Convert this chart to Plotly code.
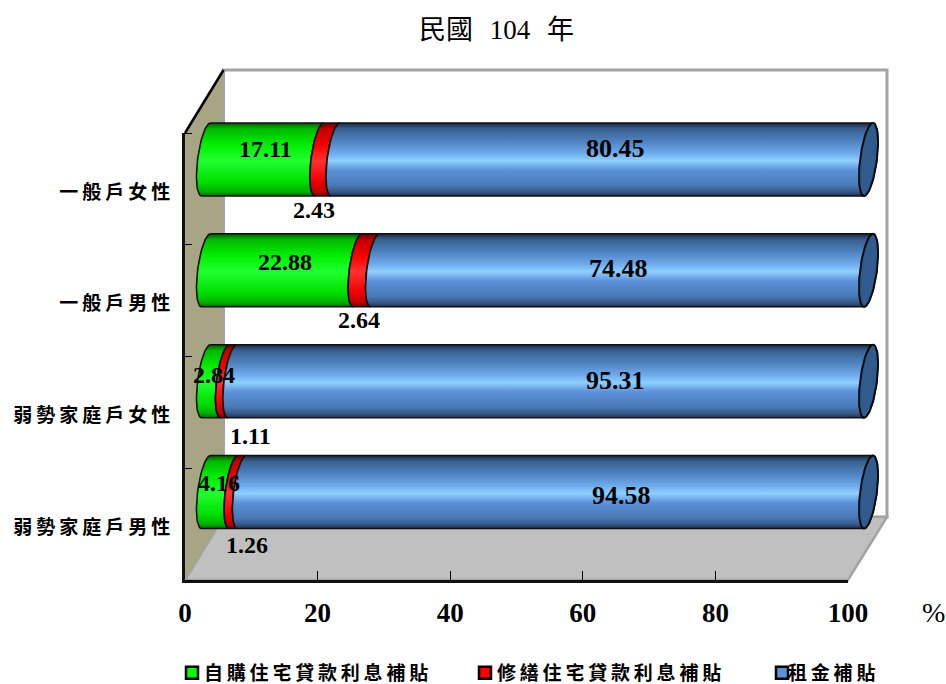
import math
import plotly.graph_objects as go

# ---- data -----------------------------------------------------------------
categories = ["一般戶女性", "一般戶男性", "弱勢家庭戶女性", "弱勢家庭戶男性"]
purchase_loan = [17.11, 22.88, 2.84, 4.16]
repair_loan = [2.43, 2.64, 1.11, 1.26]
rent_subsidy = [80.45, 74.48, 95.31, 94.58]
series_names = ["自購住宅貸款利息補貼", "修繕住宅貸款利息補貼", "租金補貼"]
x_ticks = [0, 20, 40, 60, 80, 100]
title_text = "民國 104 年"

# ---- layout constants (pixels of the 946x684 page) ------------------------
W, H = 946, 684
FRONT_L, FRONT_R, FRONT_T, FRONT_B = 185, 848, 133, 580
DEPTH_X, DEPTH_Y = 38.5, 63
BAR_L, BAR_R, BAR_T, BAR_B = 206, 868.5, 104, 547.5
BAR_H = 73
RX, SKEW = 8.4, 4.5
PAD = 20  # room either side of the bar axis so the rounded ends are not clipped

px = lambda v: v / W
py = lambda v: 1 - v / H

SERIF = "Liberation Serif, Noto Sans CJK TC"
CJK = "Noto Sans CJK TC"

fills = ["#00FF00", "#FF0000", "#5B93D9"]
grads = [
    [[0, "#006a00"], [.06, "#00b000"], [.2, "#00e000"], [.48, "#20ff30"], [.7, "#00f000"], [.92, "#00b800"], [1, "#005a00"]],
    [[0, "#700000"], [.06, "#c00000"], [.2, "#f00000"], [.48, "#ff3030"], [.7, "#f80000"], [.92, "#c00000"], [1, "#600000"]],
    [[0, "#1f3250"], [.06, "#365a8c"], [.15, "#4a7ab5"], [.35, "#5a90d8"], [.48, "#8ed0ff"], [.58, "#70aced"],
     [.75, "#4f82c0"], [.92, "#38608f"], [1, "#1a2a42"]],
]
label_sizes = [24, 24, 26]

series = [purchase_loan, repair_loan, rent_subsidy]
fig = go.Figure()

# invisible trace so the front (tick-bearing) axes exist as a subplot
fig.add_trace(go.Scatter(x=[0, 100], y=[0, 3], xaxis="x", yaxis="y", mode="markers",
                         marker=dict(opacity=0), hoverinfo="skip", showlegend=False))

# real stacked bars (normalised to 100 like the original percent-stacked chart)
positions = list(range(len(categories)))
legend_ids = ["legend", "legend2", "legend3"]
for name, vals, col, lg in zip(series_names, series, fills, legend_ids):
    fig.add_trace(go.Bar(
        y=positions, x=vals, name=name, orientation="h", width=0.5,
        xaxis="x2", yaxis="y2", hoverinfo="skip", legend=lg,
        marker=dict(color=col, line=dict(color="black", width=2.5)),
    ))

# cylinder skin, computed from the same values
ux = (BAR_R - BAR_L) / 100
uy = (BAR_B - BAR_T) / len(categories)
ry = BAR_H / 2 / uy


def arc(cx, cy, t0, t1, n=36):
    xs, ys = [], []
    for i in range(n + 1):
        t = math.radians(t0 + (t1 - t0) * i / n)
        xs.append(cx + (RX * math.cos(t) + SKEW * math.sin(t)) / ux)
        ys.append(cy - ry * math.sin(t))
    return xs, ys


for row in positions:
    total = sum(s[row] for s in series)
    start = 0.0
    for k, s in enumerate(series):
        end = start + s[row] / total * 100
        xa, ya = arc(start, row, 90, 270)
        last = k == len(series) - 1
        xb, yb = arc(end, row, 270, 450 if last else 90)
        fig.add_trace(go.Scatter(
            x=xa + xb + xa[:1], y=ya + yb + ya[:1], xaxis="x2", yaxis="y2",
            mode="lines", fill="toself", line=dict(color="#101010", width=1.6),
            fillgradient=dict(type="vertical", colorscale=grads[k]), cliponaxis=False,
            hoverinfo="skip", showlegend=False,
        ))
        start = end
    xc, yc = arc(100, row, 0, 360, 72)
    fig.add_trace(go.Scatter(
        x=xc, y=yc, xaxis="x2", yaxis="y2", mode="lines", fill="toself", cliponaxis=False,
        fillcolor="#2F5B8E", line=dict(color="#0a0a0a", width=2),
        hoverinfo="skip", showlegend=False,
    ))

# value labels, hand-placed in the original
label_xy = [
    [(265, 149), (314, 210), (615, 149)],
    [(285, 262), (359, 320), (618, 268)],
    [(214, 375), (250, 436), (615, 380)],
    [(219, 483), (247, 545), (621, 495)],
]
annotations = []
for row in positions:
    for k, s in enumerate(series):
        lx, ly = label_xy[row][k]
        annotations.append(dict(
            x=px(lx), y=py(ly), xref="paper", yref="paper", showarrow=False,
            xanchor="center", yanchor="middle", text=f"{s[row]:.2f}",
            font=dict(family="Liberation Serif", size=label_sizes[k], color="black", weight="bold"),
        ))
annotations.append(dict(
    x=px(933), y=py(612), xref="paper", yref="paper", showarrow=False,
    xanchor="center", yanchor="middle", text="%",
    font=dict(family="Liberation Serif", size=28, color="black"),
))
annotations.append(dict(
    x=px(496), y=py(30), xref="paper", yref="paper", showarrow=False,
    xanchor="center", yanchor="middle", text=title_text,
    font=dict(family=SERIF, size=27, color="black"),
))

# 3-D box: back wall, side wall, floor
BL, BR, BT, BB = FRONT_L + DEPTH_X, FRONT_R + DEPTH_X + .5, FRONT_T - DEPTH_Y, FRONT_B - DEPTH_Y


def poly(pts, fill, line, width):
    d = "M" + " L".join(f"{px(a):.5f},{py(b):.5f}" for a, b in pts) + " Z"
    return dict(type="path", path=d, xref="paper", yref="paper", layer="below",
                fillcolor=fill, line=dict(color=line, width=width))


shapes = [
    poly([(BL, BT), (BR, BT), (BR, BB), (BL, BB)], "white", "#A3A3A3", 3),
    poly([(FRONT_L, FRONT_B), (BL, BB), (BR, BB), (FRONT_R, FRONT_B)], "#C0C0C0", "#A3A3A3", 2.5),
    poly([(FRONT_L, FRONT_T), (BL, BT), (BL, BB), (FRONT_L, FRONT_B)], "#A8A585", "#A3A3A3", 1),
    dict(type="line", xref="paper", yref="paper", layer="below",
         x0=px(FRONT_L), y0=py(FRONT_T), x1=px(BL), y1=py(BT),
         line=dict(color="black", width=2.5)),
]


def legend_at(left, entry):
    return dict(
        orientation="h", x=px(left), y=py(673), xanchor="left", yanchor="middle",
        entrywidth=entry, entrywidthmode="pixels", itemwidth=30,
        bgcolor="rgba(0,0,0,0)",
        font=dict(family=CJK, size=19, color="black", weight="bold"),
    )


fig.update_layout(
    width=W, height=H, margin=dict(l=0, r=0, t=0, b=0, autoexpand=False),
    paper_bgcolor="white", plot_bgcolor="rgba(0,0,0,0)",
    barmode="stack", barnorm="percent", showlegend=True,
    annotations=annotations, shapes=shapes,
    legend=legend_at(172, 240), legend2=legend_at(465, 240), legend3=legend_at(762, 110),
    xaxis=dict(
        domain=[px(FRONT_L), px(FRONT_R)], range=[0, 100], anchor="y",
        tickvals=x_ticks, ticks="inside", ticklen=9, tickwidth=1, tickcolor="black",
        showline=True, linecolor="#111111", linewidth=3, showgrid=False, zeroline=False,
        ticklabelstandoff=7,
        tickfont=dict(family="Liberation Serif", size=27, color="black", weight="bold"),
    ),
    yaxis=dict(
        domain=[py(FRONT_B), py(FRONT_T)], range=[3.5, -0.5], anchor="x",
        tickvals=positions, ticktext=categories, ticks="", ticklabelstandoff=4,
        ticklabelshift=-3,
        showline=True, linecolor="#111111", linewidth=3, showgrid=False, zeroline=False,
        tickfont=dict(family=CJK, size=19, color="black", weight="bold"),
        minor=dict(tickvals=[-0.5, 0.5, 1.5, 2.5, 3.5], ticks="inside", ticklen=7,
                   tickwidth=1, tickcolor="black"),
    ),
    xaxis2=dict(domain=[px(BAR_L - PAD), px(BAR_R + PAD)], range=[-PAD / ux, 100 + PAD / ux],
                anchor="y2", visible=False),
    yaxis2=dict(domain=[py(BAR_B), py(BAR_T)], range=[3.5, -0.5], anchor="x2", visible=False),
)

css = ("body{margin:0;overflow:hidden}"
       ".legendtext,.legend2text{letter-spacing:3.8px;transform:translate(-8px,0)}"
       ".legend3text{letter-spacing:3.8px;transform:translate(-14px,0)}"
       ".ytick text{letter-spacing:4px}"
       ".annotation-text{word-spacing:10px}")
post = f"var s=document.createElement('style');s.textContent='{css}';document.head.appendChild(s);"
fig.write_html("out.html", post_script=post, config={"displayModeBar": False})
